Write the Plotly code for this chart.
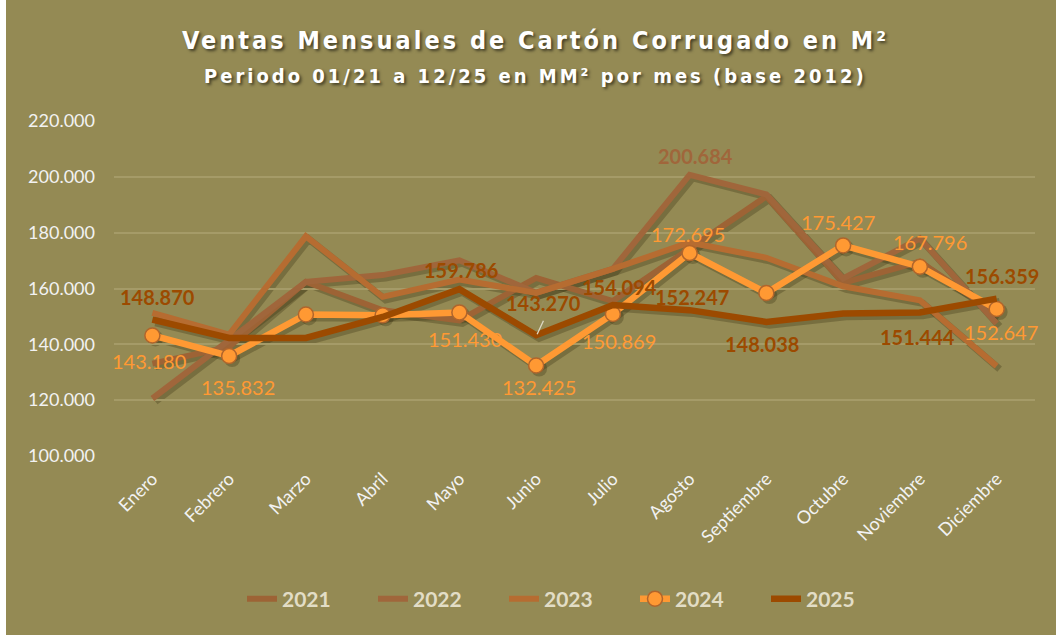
import plotly.graph_objects as go

# ---------------- data ----------------
meses = ["Enero", "Febrero", "Marzo", "Abril", "Mayo", "Junio", "Julio",
         "Agosto", "Septiembre", "Octubre", "Noviembre", "Diciembre"]
anios = ["2021", "2022", "2023", "2024", "2025"]
v2021 = [133100, 139100, 162400, 152200, 148600, 163800, 155500, 174000, 193000, 162000, 169600, 151000]
v2022 = [120600, 141400, 162400, 164800, 170100, 158500, 167000, 200684, 193700, 163600, 177900, 147500]
v2023 = [151300, 143500, 178700, 157000, 163200, 158400, 167000, 176500, 171000, 160800, 155800, 132200]
v2024 = [143180, 135832, 150700, 150400, 151430, 132425, 150869, 172695, 158400, 175427, 167796, 152647]
v2025 = [148870, 142300, 142300, 149800, 159786, 143270, 154094, 152247, 148038, 151000, 151444, 156359]
y_ticks = [100000, 120000, 140000, 160000, 180000, 200000, 220000]

series = [v2021, v2022, v2023, v2024, v2025]

# ---------------- styles ----------------
W, H = 1056, 635
ML, MR, MT, MB = 114, 18, 121, 176
PW, PH = W - ML - MR, H - MT - MB
SH = 3  # shadow offset px
BG = "#948A54"
colors = ["#9D6335", "#A0663B", "#B66C31", "#FF9933", "#9C4A00"]
widths = [6, 6, 6, 6.5, 6.5]
FONT = "Lato"

# label offsets (dx, dy px) per series index -> {point index: (dx, dy)}
labels = {
    1: {7: (6, 19)},
    3: {0: (-3, -26), 1: (9, -31), 4: (6, -27), 5: (3, -22), 6: (6, -27),
        7: (-2, 19), 9: (-5, 23), 10: (10, 25), 11: (4, -23)},
    4: {0: (5, 23), 4: (2, 19), 5: (7, 32), 6: (7, 18), 7: (2, 13),
        8: (-4, -22), 10: (-2, -25), 11: (5, 23)},
}
label_style = {1: ("#A0663B", True), 3: ("#FF9933", False), 4: ("#9C4A00", True)}


def fmt(v):
    return f"{v:,}".replace(",", ".")


fig = go.Figure()

# shadows (first subplot, shifted a few px right/down, invisible axes)
for i, vals in enumerate(series):
    mode = "lines+markers" if i == 3 else "lines"
    fig.add_trace(go.Scatter(
        x=meses, y=vals, mode=mode, xaxis="x", yaxis="y",
        line=dict(color="rgba(45,38,10,0.28)", width=widths[i] + 1),
        marker=dict(size=16, color="rgba(45,38,10,0.28)"),
        showlegend=False, hoverinfo="skip"))

# main lines (second subplot, visible axes)
for i, vals in enumerate(series):
    if i == 3:
        fig.add_trace(go.Scatter(
            x=meses, y=vals, name=anios[i], mode="lines+markers", xaxis="x2", yaxis="y2",
            line=dict(color=colors[i], width=widths[i]),
            marker=dict(size=15, color=colors[i], line=dict(color="#B0652C", width=1.5))))
    else:
        fig.add_trace(go.Scatter(
            x=meses, y=vals, name=anios[i], mode="lines", xaxis="x2", yaxis="y2",
            line=dict(color=colors[i], width=widths[i])))

# data labels
for si, pts in labels.items():
    col, bold = label_style[si]
    for pi, (dx, dy) in pts.items():
        fig.add_annotation(
            x=meses[pi], y=series[si][pi], xref="x2", yref="y2",
            text=fmt(series[si][pi]), showarrow=False,
            xshift=dx, yshift=dy,
            font=dict(family=FONT, size=20, color=col,
                      weight="bold" if bold else "normal"))

# small leader line of the moved June 2025 label
fig.add_annotation(
    x=meses[5], y=v2025[5], xref="x2", yref="y2", text="", showarrow=True,
    arrowhead=0, arrowwidth=1.3, arrowcolor="#DCD8C4", ax=7, ay=-15,
    xshift=1, yshift=1, standoff=0, startstandoff=0)


def px(x):
    return (x - ML) / PW


def py(y):
    return (H - MB - y) / PH


# titles
fig.add_annotation(
    xref="paper", yref="paper", x=px(535), y=py(40), xanchor="center", yanchor="middle",
    text="<span style='letter-spacing:3px'>Ventas Mensuales de Cartón Corrugado en M²</span>",
    showarrow=False,
    font=dict(family="DejaVu Sans Condensed", size=25, color="white", weight="bold",
              shadow="2px 2px 3px rgba(0,0,0,0.55)"))
fig.add_annotation(
    xref="paper", yref="paper", x=px(535), y=py(76), xanchor="center", yanchor="middle",
    text="<span style='letter-spacing:3px'>Periodo 01/21 a 12/25 en MM² por mes (base 2012)</span>",
    showarrow=False,
    font=dict(family="DejaVu Sans Condensed", size=20, color="white", weight="bold",
              shadow="2px 2px 3px rgba(0,0,0,0.55)"))

# white strip on the left edge
fig.add_shape(type="rect", xref="paper", yref="paper",
              x0=px(-5), x1=px(6), y0=py(H + 5), y1=py(-5),
              fillcolor="white", line=dict(width=0), layer="below")

fig.update_layout(
    width=W, height=H,
    margin=dict(l=ML, r=MR, t=MT, b=MB, pad=0),
    paper_bgcolor=BG, plot_bgcolor="rgba(0,0,0,0)",
    separators=",.",
    font=dict(family=FONT, color="#F2F2F2"),
    showlegend=True,
    legend=dict(orientation="h", x=px(569.5), xanchor="center", y=py(599), yanchor="middle",
                font=dict(family=FONT, size=21, color="#E2DDC6", weight="bold"),
                bgcolor="rgba(0,0,0,0)", entrywidth=86, entrywidthmode="pixels"),
    xaxis2=dict(type="category", domain=[0, 1 - SH / PW], range=[-0.5, 11.5],
                showgrid=False, zeroline=False, showline=False, ticks="",
                tickangle=-45, tickfont=dict(family=FONT, size=18, color="#F2F2F2"),
                ticklabelstandoff=8, anchor="y2"),
    yaxis2=dict(domain=[SH / PH, 1], range=[100000, 220000], tickvals=y_ticks,
                tickformat=",d", showgrid=True, gridcolor="#A59B68", gridwidth=1.5,
                zeroline=False, showline=False, ticks="",
                tickfont=dict(family=FONT, size=18, color="#F2F2F2"),
                ticklabelstandoff=18, anchor="x2"),
    xaxis=dict(type="category", domain=[SH / PW, 1], range=[-0.5, 11.5], visible=False,
               showgrid=False, anchor="y"),
    yaxis=dict(domain=[0, 1 - SH / PH], range=[100000, 220000], visible=False,
               showgrid=False, anchor="x"),
)

fig.write_html("out.html", config={"displayModeBar": False},
               post_script="document.body.style.margin='0';")
